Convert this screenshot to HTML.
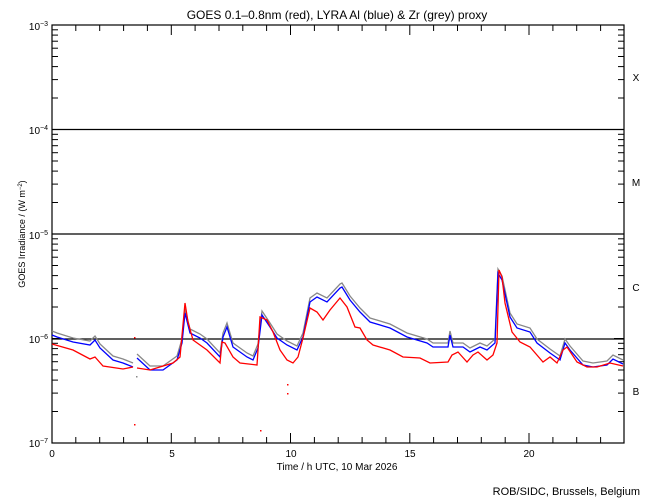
<!DOCTYPE html>
<html><head><meta charset="utf-8"><style>
body{margin:0;background:#fff;}
svg{display:block;font-family:"Liberation Sans",sans-serif;}
</style></head><body>
<svg id="s" width="650" height="500" xmlns="http://www.w3.org/2000/svg">
<rect width="650" height="500" fill="#fff"/>
<text x="337" y="19" font-size="12" text-anchor="middle">GOES 0.1–0.8nm (red), LYRA Al (blue) &amp; Zr (grey) proxy</text>
<g stroke="#000" stroke-width="1.2" fill="none">
<rect x="52" y="25" width="572" height="418"/>
<line x1="52" y1="129.5" x2="624" y2="129.5"/>
<line x1="52" y1="234" x2="624" y2="234"/>
<line x1="52" y1="339" x2="624" y2="339"/>
</g>
<g id="ticks" stroke="#000" stroke-width="1"></g>
<g font-size="10" text-anchor="end">
<text x="48" y="30">10<tspan font-size="7" dy="-4">−3</tspan></text>
<text x="48" y="134">10<tspan font-size="7" dy="-4">−4</tspan></text>
<text x="48" y="239">10<tspan font-size="7" dy="-4">−5</tspan></text>
<text x="48" y="343">10<tspan font-size="7" dy="-4">−6</tspan></text>
<text x="48" y="447">10<tspan font-size="7" dy="-4">−7</tspan></text>
</g>
<g font-size="10" text-anchor="middle">
<text x="636" y="81">X</text><text x="636" y="186">M</text><text x="636" y="291">C</text><text x="636" y="395">B</text>
<text x="52" y="457">0</text><text x="172" y="457">5</text><text x="291" y="457">10</text><text x="410" y="457">15</text><text x="529" y="457">20</text>
<text x="337" y="470">Time / h UTC, 10 Mar 2026</text>
</g>
<text font-size="9" text-anchor="middle" transform="translate(25,234) rotate(-90)">GOES Irradiance / (W m<tspan font-size="6" dy="-3">−2</tspan><tspan dy="3">)</tspan></text>
<text x="640" y="495" font-size="11" text-anchor="end">ROB/SIDC, Brussels, Belgium</text>
<g fill="none" stroke-width="1.3">
<polyline transform="translate(0,-4)" stroke="#888" points="52,335 57,337 73,342 90,345 95,340 100,348 113,360 123,363 133,367"/>
<polyline transform="translate(0,-4)" stroke="#888" points="137,358 150,370 163,370 177,360 182,343 185,313 190,333 200,338 207,343 220,357 223,337 227,327 233,347 247,357 253,360 258,348 262,315 270,327 277,338 287,345 297,350 303,337 310,302 317,297 327,302 340,288 342,287 350,300 360,312 370,322 390,328 407,337 427,343 433,347 448,347 450,335 453,347 463,347 470,352 480,347 487,350 495,343 498,273 502,280 510,317 517,328 530,332 537,343 550,353 560,360 565,343 570,350 583,365 593,367 607,365 613,359 623,364"/>
<polyline stroke="#00f" points="52,335 57,337 73,342 90,345 95,340 100,348 113,360 123,363 133,367"/>
<polyline stroke="#00f" points="137,358 150,370 163,370 177,360 182,343 185,313 190,333 200,338 207,343 220,357 223,337 227,327 233,347 247,357 253,360 258,348 262,315 270,327 277,338 287,345 297,350 303,337 310,302 317,297 327,302 340,288 342,287 350,300 360,312 370,322 390,328 407,337 427,343 433,347 448,347 450,335 453,347 463,347 470,352 480,347 487,350 495,343 498,273 502,280 510,317 517,328 530,332 537,343 550,353 560,360 565,343 570,350 583,365 593,367 607,365 613,359 623,364"/>
<polyline stroke="#f00" points="52,344 73,350 90,359 95,357 103,366 123,369 133,367"/>
<polyline stroke="#f00" points="137,368 150,370 173,363 180,357 185,303 188,322 193,340 207,350 220,363 222,342 225,343 233,357 240,363 257,365 258,350 260,317 267,320 273,332 280,350 287,360 293,363 298,357 303,338 310,308 317,312 323,320 330,310 340,298 347,307 355,327 360,328 367,340 373,345 390,350 403,357 420,358 430,363 448,362 452,355 458,352 467,362 473,355 478,352 487,360 493,355 497,343 499,270 502,277 505,303 512,332 520,342 530,347 543,362 550,357 557,363 563,350 567,347 577,362 587,367 597,367 610,363 623,366"/>
</g>
<g fill="#f00"><rect x="134" y="337" width="1.5" height="1.5"/><rect x="287" y="384" width="1.5" height="1.5"/><rect x="287" y="393" width="1.5" height="1.5"/><rect x="260" y="430" width="1.5" height="1.5"/><rect x="134" y="424" width="1.5" height="1.5"/></g>
<g fill="#888"><rect x="136" y="376" width="1.5" height="1.5"/></g>
</svg>
<script>
var g=document.getElementById('ticks'),h='';
function L(a,b,c,d){h+='<line x1="'+a+'" y1="'+b+'" x2="'+c+'" y2="'+d+'"/>';}
for(var dec=0;dec<4;dec++){var y0=443-dec*104.5;
 for(var k=2;k<=10;k++){var y=(y0-Math.log10(k)*104.5).toFixed(1);
  var len=(k==10)?10:6; L(52,y,52+len,y); L(624,y,624-len,y);}}
for(var t=1;t<24;t++){var x=(52+t*23.85).toFixed(1);var len=(t%5==0)?10:6;L(x,443,x,443-len);L(x,25,x,25+len);}
g.innerHTML=h;
</script>
</body></html>
